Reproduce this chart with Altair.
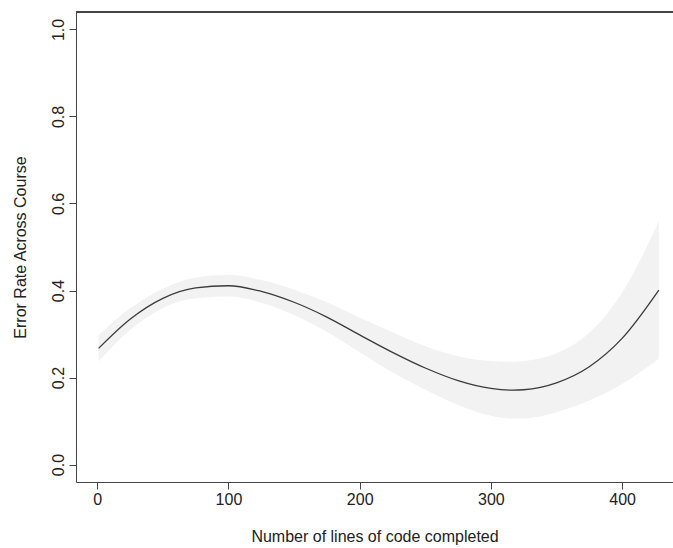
import altair as alt
import pandas as pd

# Fitted error rate against lines of code completed, with its confidence band
lines_done = [1, 25, 50, 75, 100, 125, 150, 175, 200, 225, 250, 275, 300, 317, 325, 350, 375, 400, 428]
error_fit = [0.267, 0.334, 0.382, 0.406, 0.411, 0.398, 0.373, 0.339, 0.298, 0.258, 0.222, 0.193,
             0.175, 0.171, 0.172, 0.188, 0.225, 0.290, 0.401]
error_lower = [0.237, 0.309, 0.360, 0.382, 0.386, 0.372, 0.344, 0.305, 0.258, 0.212, 0.172, 0.137,
               0.112, 0.106, 0.106, 0.120, 0.147, 0.185, 0.243]
error_upper = [0.297, 0.359, 0.404, 0.430, 0.436, 0.424, 0.402, 0.373, 0.338, 0.304, 0.272, 0.249,
               0.238, 0.236, 0.238, 0.256, 0.303, 0.395, 0.559]

x_ticks = [0, 100, 200, 300, 400]
y_ticks = [0.0, 0.2, 0.4, 0.6, 0.8, 1.0]

df = pd.DataFrame({"lines": lines_done, "fit": error_fit, "lo": error_lower, "hi": error_upper})

W, H = 597, 470
FONT = "Liberation Sans"
FRAME = "#444444"
TEXT = "#222222"

x_enc = alt.X(
    "lines:Q",
    scale=alt.Scale(domain=[-16.2, 438.8], nice=False, zero=False),
    axis=alt.Axis(
        values=x_ticks, format="d", title="Number of lines of code completed",
        grid=False, domainColor=FRAME, tickColor=FRAME, tickSize=7,
        labelPadding=2, labelFontSize=16, labelFont=FONT, labelColor=TEXT,
        titleFontSize=16, titleFont=FONT, titleColor=TEXT, titleFontWeight="normal",
        titlePadding=21, labelFlush=False,
    ),
)

y_scale = alt.Scale(domain=[-0.04, 1.04], nice=False, zero=False)
y_axis = alt.Axis(
    values=y_ticks, format=".1f", title="Error Rate Across Course",
    grid=False, domainColor=FRAME, tickColor=FRAME, tickSize=7,
    labelAngle=270, labelAlign="center", labelBaseline="bottom", labelPadding=3,
    labelFontSize=16, labelFont=FONT, labelColor=TEXT,
    titleFontSize=16, titleFont=FONT, titleColor=TEXT, titleFontWeight="normal",
    titlePadding=22, labelFlush=False,
)

band = alt.Chart(df).mark_area(color="#f2f2f2", interpolate="monotone").encode(
    x=x_enc,
    y=alt.Y("lo:Q", scale=y_scale, axis=y_axis),
    y2="hi:Q",
)

curve = alt.Chart(df).mark_line(color="#3a3a3a", strokeWidth=1.3, interpolate="monotone").encode(
    x="lines:Q",
    y="fit:Q",
)

# top edge of the plot frame
top_edge = alt.Chart(df).mark_rule(color=FRAME, strokeWidth=1).encode(
    x=alt.value(0), x2=alt.value(W), y=alt.value(0)
)

chart = (
    alt.layer(band, curve, top_edge)
    .properties(
        width=W, height=H,
        autosize=alt.AutoSizeParams(type="none"),
        padding={"left": 76, "top": 12, "right": 0, "bottom": 66},
        background="white",
    )
    .configure_view(stroke=None)
)

chart.save("out.html", embed_options={"renderer": "svg", "actions": False})
